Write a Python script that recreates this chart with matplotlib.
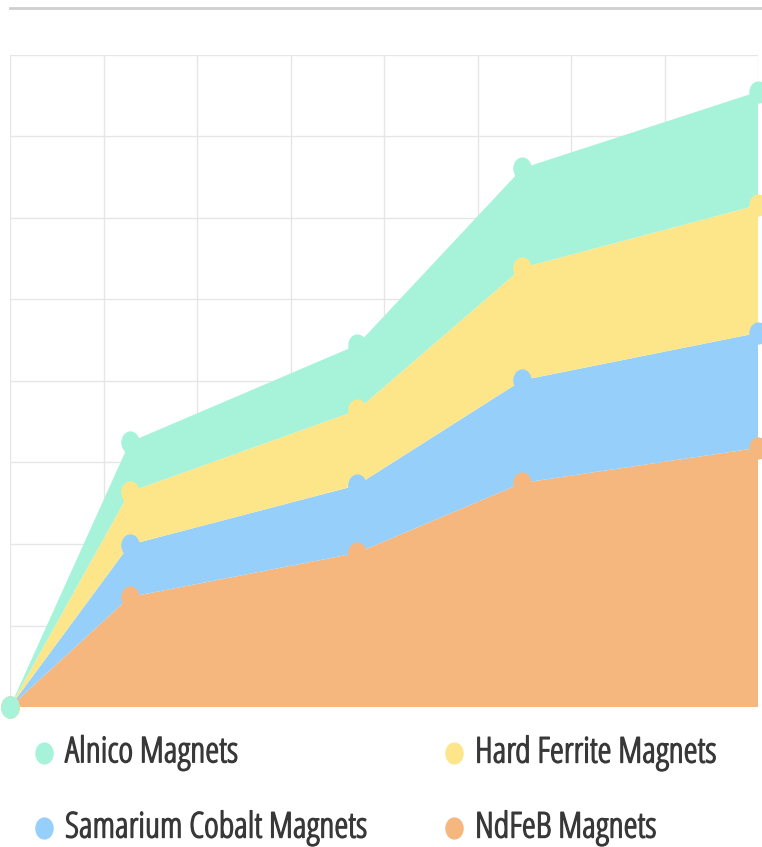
import numpy as np
import matplotlib
matplotlib.use('Agg')
import matplotlib.pyplot as plt
import matplotlib.patheffects as pe
from matplotlib.lines import Line2D
from matplotlib.path import Path

# ── data (grid step = 10) ─────────────────────────────────────
x_vals = [0, 12.8, 37.1, 54.8, 80]
ndfeb = [0, 13.5, 18.9, 27.5, 31.8]
samarium = [0, 6.4, 8.3, 12.6, 14.1]
hard_ferrite = [0, 6.5, 9.2, 13.8, 15.7]
alnico = [0, 6.1, 8.0, 12.2, 13.9]

series_names = ['NdFeB Magnets', 'Samarium Cobalt Magnets',
                'Hard Ferrite Magnets', 'Alnico Magnets']
colors = ['#f6b77f', '#97cffb', '#fde68a', '#a7f3d9']

W, H = 762, 847
fig = plt.figure(figsize=(W / 100, H / 100), dpi=100)
fig.patch.set_facecolor('white')

# plot area in pixels: x 10..758, y 55..707
ax = fig.add_axes([10 / W, 1 - 707 / H, 748 / W, 652 / H])
ax.set_xlim(0, 80)
ax.set_ylim(0, 80)
ax.set_xticks(np.arange(0, 81, 10))
ax.set_yticks(np.arange(0, 81, 10))
ax.tick_params(length=0, labelbottom=False, labelleft=False)
for s in ax.spines.values():
    s.set_visible(False)
ax.grid(True, color='#e6e6e6', lw=1)
ax.set_axisbelow(True)

stack = [ndfeb, samarium, hard_ferrite, alnico]
ax.stackplot(x_vals, *stack, colors=colors, lw=0, zorder=2)

# slightly tall ellipse marker (the reference is stretched vertically)
circ = Path.unit_circle()
ell = Path(circ.vertices * np.array([1.0, 1.22]), circ.codes)

tops = np.cumsum(np.array(stack), axis=0)
for top, c in zip(tops, colors):
    ax.plot(x_vals, top, ls='none', marker=ell, ms=15, color=c,
            mec=c, zorder=3, clip_on=False)

# thin header rule at the very top
fig.add_artist(Line2D([10 / W, 1], [1 - 8 / H] * 2, color='#cfcfcf', lw=2))

# legend, two columns (condensed face only comes in light -> thicken a bit)
legend_font = ['Open Sans', 'DejaVu Sans']
txt_col = '#383838'
legend_items = [
    ('Alnico Magnets', colors[3], 44, 753),
    ('Hard Ferrite Magnets', colors[2], 454, 753),
    ('Samarium Cobalt Magnets', colors[1], 44, 828),
    ('NdFeB Magnets', colors[0], 454, 828),
]
for label, c, px, py in legend_items:
    fig.add_artist(Line2D([px / W], [1 - py / H], ls='none', marker=ell,
                          ms=15, color=c, mec=c))
    fig.text((px + 21) / W, 1 - py / H, label, family=legend_font,
             fontstretch='condensed', fontsize=25.5, color=txt_col,
             va='center', ha='left',
             path_effects=[pe.withStroke(linewidth=1.0, foreground=txt_col)])

fig.savefig('out.png', dpi=100)
